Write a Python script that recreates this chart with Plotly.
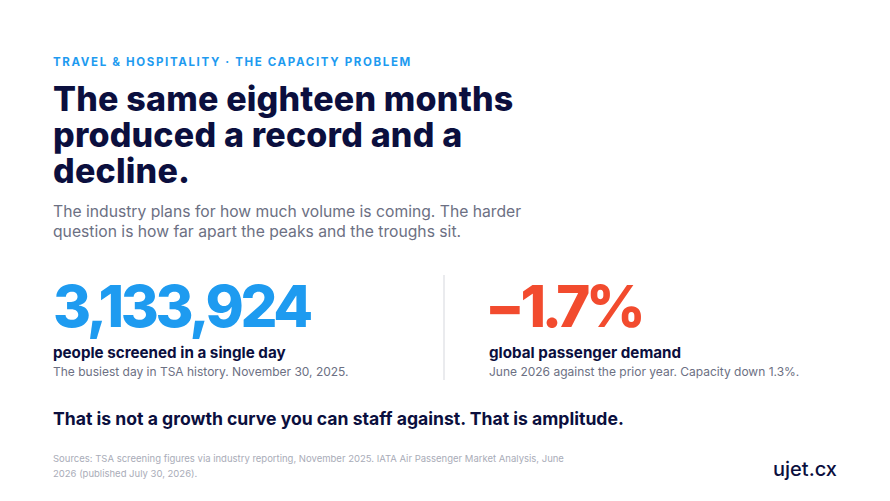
import plotly.graph_objects as go

# ---- content (data) ----
EYEBROW = "TRAVEL & HOSPITALITY · THE CAPACITY PROBLEM"
TITLE_LINES = ["The same eighteen months", "produced a record and a", "decline."]
SUBTITLE_LINES = [
    "The industry plans for how much volume is coming. The harder",
    "question is how far apart the peaks and the troughs sit.",
]
STAT_VALUES = ["3,133,924", "\u22121.7%"]
STAT_LABELS = ["people screened in a single day", "global passenger demand"]
STAT_NOTES = [
    "The busiest day in TSA history. November 30, 2025.",
    "June 2026 against the prior year. Capacity down 1.3%.",
]
KICKER = "That is not a growth curve you can staff against. That is amplitude."
SOURCE_LINES = [
    "Sources: TSA screening figures via industry reporting, November 2025. IATA Air Passenger Market Analysis, June",
    "2026 (published July 30, 2026).",
]
BRAND = "ujet.cx"

# ---- style ----
W, H = 890, 501
OFF = 8  # page body margin
FONT = "Inter"
NAVY = "#0B0F3E"
BLUE = "#1E9BF0"
RED = "#F24B2E"
GRAY = "#6C7083"
LIGHT = "#A9ACB8"
STAT_COLORS = [BLUE, RED]
STAT_X = [53, 485]
STAT_SPACING = [-3.3, -4.3]

fig = go.Figure()
annotations = []


def add(text, x, baseline, size, color, weight=400, spacing=None):
    if spacing is not None:
        text = f"<span style='letter-spacing:{spacing}px'>{text}</span>"
    annotations.append(dict(
        text=text, x=(x - OFF - 2) / W, y=1 - (baseline - OFF - 0.36 * size) / H,
        xref="paper", yref="paper", xanchor="left", yanchor="middle",
        showarrow=False, align="left",
        font=dict(family=FONT, size=size, color=color, weight=weight),
    ))


add(EYEBROW, 53, 66, 11.5, BLUE, 700, spacing=1.65)
for i, line in enumerate(TITLE_LINES):
    add(line, 53, 111 + i * 36, 34, NAVY, 800, spacing=0.2)
for i, line in enumerate(SUBTITLE_LINES):
    add(line, 53, 217 + i * 20, 15.7, GRAY, 400)
for i in range(2):
    add(STAT_VALUES[i], STAT_X[i], 327, 58, STAT_COLORS[i], 800, spacing=STAT_SPACING[i])
add(STAT_LABELS[0], 53, 358, 15.2, NAVY, 700)
add(STAT_LABELS[1], 489, 358, 15.2, NAVY, 700)
add(STAT_NOTES[0], 53, 376, 12, GRAY, 400)
add(STAT_NOTES[1], 489, 376, 12, GRAY, 400)
add(KICKER, 53, 425, 17.6, NAVY, 700)
for i, line in enumerate(SOURCE_LINES):
    add(line, 53, 462 + i * 15, 9.5, LIGHT, 400)
add(BRAND, 773, 476, 20, NAVY, 500)

fig.add_shape(type="line", xref="paper", yref="paper",
              x0=(444 - OFF) / W, x1=(444 - OFF) / W,
              y0=1 - (275 - OFF) / H, y1=1 - (380 - OFF) / H,
              line=dict(color="#E3E4E9", width=1.5))

fig.update_layout(
    width=W, height=H, margin=dict(l=0, r=0, t=0, b=0),
    paper_bgcolor="white", plot_bgcolor="white",
    xaxis=dict(visible=False), yaxis=dict(visible=False),
    annotations=annotations, showlegend=False,
)
fig.write_html("out.html")
